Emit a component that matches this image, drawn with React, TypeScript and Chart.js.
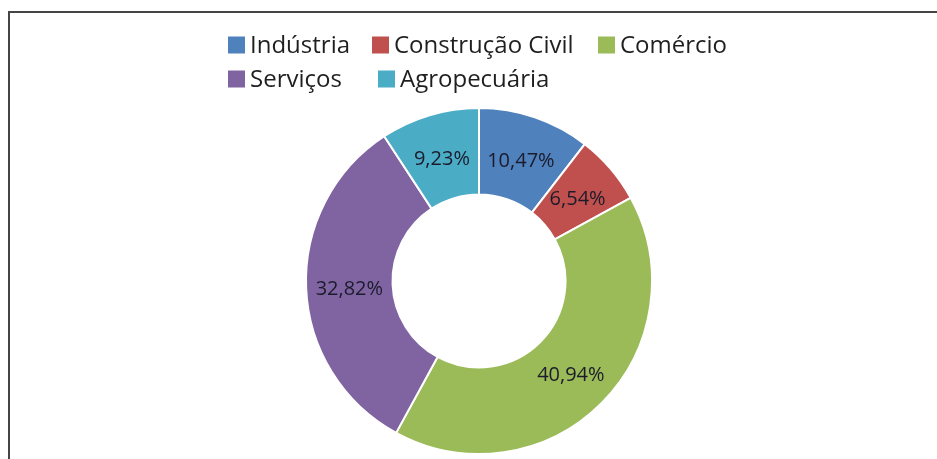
import React, { useEffect, useRef } from "react";
import { Chart, ArcElement, DoughnutController } from "chart.js";

Chart.register(ArcElement, DoughnutController);

const categories = ["Indústria", "Construção Civil", "Comércio", "Serviços", "Agropecuária"];
const shares = [10.47, 6.54, 40.94, 32.82, 9.23];
const colors = ["#4F81BD", "#C0504D", "#9BBB59", "#8064A2", "#4BACC6"];
const legendRows = [
  [0, 1, 2],
  [3, 4],
];

const FONT = '"Open Sans", "Noto Sans", sans-serif';

const fmt = (v: number) => `${v.toFixed(2).replace(".", ",")}%`;

// legend item left edges (layout only), per row
const legendX = [
  [218, 362, 588],
  [218, 368],
];

const legendPlugin = {
  id: "customLegend",
  afterDraw(chart: any) {
    const ctx = chart.ctx as CanvasRenderingContext2D;
    ctx.save();
    ctx.font = `24px ${FONT}`;
    ctx.textBaseline = "middle";
    ctx.textAlign = "left";
    const rowY = [32, 66];
    const box = 17;
    legendRows.forEach((row, r) => {
      row.forEach((i, k) => {
        const x = legendX[r][k];
        ctx.fillStyle = colors[i];
        ctx.fillRect(x, rowY[r] - box / 2, box, box);
        ctx.fillStyle = "#1f1f1f";
        ctx.fillText(categories[i], x + box + 5, rowY[r] + 1);
      });
    });
    ctx.restore();
  },
};

const labelPlugin = {
  id: "sliceLabels",
  afterDatasetsDraw(chart: any) {
    const ctx = chart.ctx as CanvasRenderingContext2D;
    const meta = chart.getDatasetMeta(0);
    ctx.save();
    ctx.font = `20px ${FONT}`;
    ctx.fillStyle = "#1b1b2b";
    ctx.textAlign = "center";
    ctx.textBaseline = "middle";
    meta.data.forEach((arc: any, i: number) => {
      const p = arc.tooltipPosition();
      ctx.fillText(fmt(shares[i]), p.x, p.y + 3);
    });
    ctx.restore();
  },
};

export default function App() {
  const ref = useRef<HTMLCanvasElement | null>(null);
  useEffect(() => {
    if (!ref.current) return;
    const chart = new Chart(ref.current, {
      type: "doughnut",
      data: {
        labels: categories,
        datasets: [
          {
            data: shares,
            backgroundColor: colors,
            borderColor: "#ffffff",
            borderWidth: 2,
          },
        ],
      },
      options: {
        responsive: false,
        animation: false,
        cutout: "50%",
        layout: { padding: { top: 94, bottom: 4, left: 11, right: 0 } },
        plugins: {
          legend: { display: false },
          tooltip: { enabled: false },
        },
      },
      plugins: [legendPlugin, labelPlugin],
    });
    return () => chart.destroy();
  }, []);

  return (
    <div
      style={{
        position: "absolute",
        left: 8,
        top: 11,
        width: 929,
        height: 448,
        boxSizing: "border-box",
        borderTop: "2px solid #454545",
        borderLeft: "2px solid #454545",
        background: "#ffffff",
      }}
    >
      <canvas ref={ref} width={927} height={446} style={{ display: "block" }} />
    </div>
  );
}
